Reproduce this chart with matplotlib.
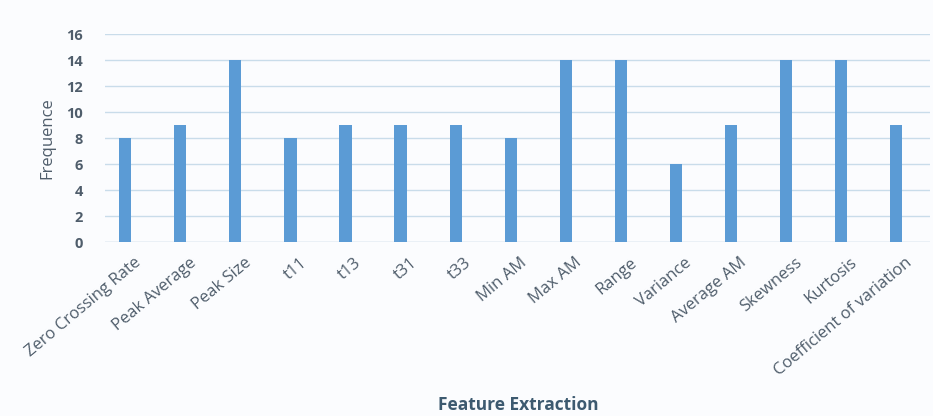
import matplotlib
matplotlib.use("Agg")
import matplotlib.pyplot as plt
import matplotlib.transforms as mtransforms
import numpy as np

categories = ["Zero Crossing Rate", "Peak Average", "Peak Size", "t11", "t13", "t31",
              "t33", "Min AM", "Max AM", "Range", "Variance", "Average AM",
              "Skewness", "Kurtosis", "Coefficient of variation"]
frequence = [8, 9, 14, 8, 9, 9, 9, 8, 14, 14, 6, 9, 14, 14, 9]
y_ticks = [0, 2, 4, 6, 8, 10, 12, 14, 16]

plt.rcParams['font.family'] = ['Open Sans', 'DejaVu Sans']

W, H = 933, 416
fig = plt.figure(figsize=(W / 100, H / 100), dpi=100)
fig.patch.set_facecolor("#fbfcfe")
ax = fig.add_axes([105 / W, 1 - 242 / H, (930 - 105) / W, (242 - 34) / H])
ax.set_facecolor("#fbfcfe")

x = np.arange(len(categories))
ax.bar(x, frequence, width=0.22, color="#5b9bd5", zorder=3)

ax.set_ylim(0, 16)
ax.set_xlim(-0.37, len(categories) - 0.38)
ax.set_yticks(y_ticks)
ax.yaxis.grid(True, color="#c9dcea", linewidth=1.0, zorder=0)
for s in ax.spines.values():
    s.set_visible(False)
ax.axhline(0, color="#d0dde8", linewidth=1.0, zorder=2)

text_color = "#4f5d6b"
ax.tick_params(axis="both", length=0, colors=text_color)
ax.tick_params(axis="y", labelsize=10.5, pad=16)
ax.set_xticks(x)
ax.set_xticklabels(categories, rotation=40, ha="right", rotation_mode="anchor",
                   fontsize=12, color=text_color)
ax.tick_params(axis="x", pad=9)
# nudge the rotated category labels a little to the right of each bar
shift = mtransforms.ScaledTranslation(9 / 100, 0, fig.dpi_scale_trans)
for lbl in ax.get_xticklabels():
    lbl.set_transform(lbl.get_transform() + shift)
for lbl in ax.get_yticklabels():
    lbl.set_fontweight("bold")

ax.set_ylabel("Frequence", fontsize=12, color=text_color, labelpad=8)
fig.text(518 / W, 1 - 405 / H, "Feature Extraction", ha="center", va="center",
         fontsize=12.5, fontweight="bold", color="#3d5a70")

fig.savefig("out.png", dpi=100, facecolor=fig.get_facecolor())
